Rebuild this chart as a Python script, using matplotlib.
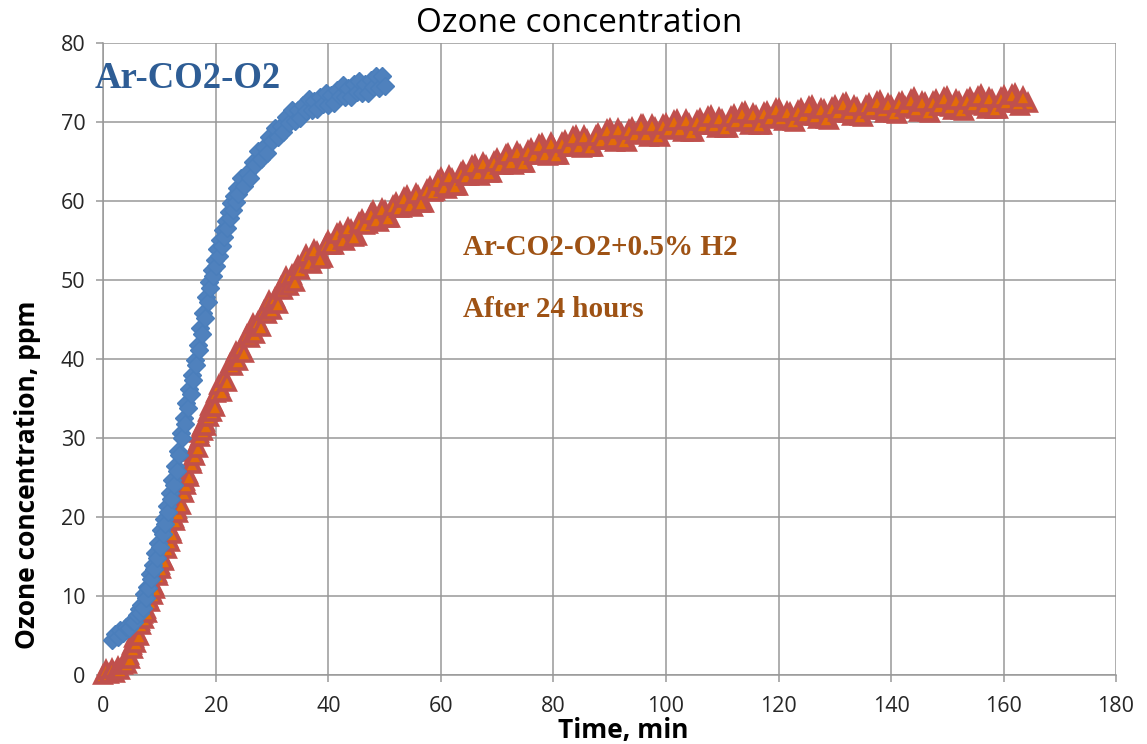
import matplotlib
matplotlib.use('Agg')
import matplotlib.pyplot as plt

# ---- Ar-CO2-O2 (blue diamonds) ----
blue_t_a = [1.5, 2.0, 2.5, 3.0, 3.5, 4.0, 4.5, 5.0, 5.5, 6.0]
blue_v_a = [4.4, 5.2, 4.8, 5.7, 5.3, 6.1, 5.9, 6.8, 6.7, 7.6]

blue_t_b = [6.25, 6.5, 6.75, 7.0, 7.25, 7.5, 7.75, 8.0, 8.25, 8.5,
            8.75, 9.0, 9.25, 9.5, 9.75, 10.0, 10.25, 10.5, 10.75, 11.0,
            11.25, 11.5, 11.75, 12.0, 12.25, 12.5, 12.75, 13.0, 13.25, 13.5,
            13.75, 14.0, 14.25, 14.5, 14.75, 15.0, 15.25, 15.5, 15.75, 16.0,
            16.25, 16.5, 16.75, 17.0, 17.25, 17.5, 17.75, 18.0, 18.25, 18.5,
            18.75, 19.0, 19.25, 19.5, 19.75, 20.0, 20.25, 20.5, 20.75, 21.0,
            21.25, 21.5, 21.75, 22.0, 22.25, 22.5, 22.75, 23.0, 23.25, 23.5,
            23.75, 24.0]
blue_v_b = [8.4, 7.8, 8.9, 8.5, 10.3, 9.7, 11.2, 11.0, 12.8, 12.2,
            13.9, 13.4, 15.4, 14.8, 16.7, 16.2, 18.4, 17.8, 19.8, 19.1,
            21.4, 20.7, 23.0, 22.3, 24.7, 24.0, 26.5, 25.8, 28.4, 27.9,
            30.6, 30.0, 32.5, 31.8, 34.4, 33.8, 36.2, 35.6, 38.0, 37.4,
            39.9, 39.2, 41.8, 41.2, 43.9, 43.2, 45.8, 45.2, 47.8, 47.2,
            49.8, 49.0, 51.3, 50.5, 52.6, 51.8, 53.9, 53.1, 55.1, 54.3,
            56.4, 55.5, 57.5, 56.6, 58.6, 57.8, 59.7, 58.9, 60.7, 59.9,
            61.6, 60.9]

blue_t_c = [24.5, 25.0, 25.5, 26.0, 26.5, 27.0, 27.5, 28.0, 28.5, 29.0,
            29.5, 30.0, 30.5, 31.0, 31.5, 32.0, 32.5, 33.0, 33.5, 34.0,
            34.5, 35.0, 35.5, 36.0, 36.5, 37.0, 37.5, 38.0, 38.5, 39.0,
            39.5, 40.0, 40.5, 41.0, 41.5, 42.0, 42.5, 43.0, 43.5, 44.0,
            44.5, 45.0, 45.5, 46.0, 46.5, 47.0, 47.5, 48.0, 48.5, 49.0,
            49.5, 50.0]
blue_v_c = [62.9, 61.9, 63.5, 62.9, 65.0, 64.6, 66.4, 65.3, 66.8, 66.1,
            68.1, 67.6, 69.3, 68.1, 69.5, 68.7, 70.6, 69.9, 71.5, 70.2,
            71.5, 70.5, 72.2, 71.4, 72.9, 71.5, 72.7, 71.6, 73.2, 72.3,
            73.7, 72.2, 73.4, 72.4, 74.1, 73.3, 74.7, 73.2, 74.3, 73.2,
            74.8, 73.8, 75.2, 73.7, 74.8, 73.7, 75.3, 74.4, 75.8, 74.3,
            75.8, 74.6]

# ---- Ar-CO2-O2+0.5% H2, after 24 hours (orange triangles) ----
red_t_a = [0.0, 0.5, 1.0, 1.5, 2.0, 2.5, 3.0, 3.5]
red_v_a = [0.0, 0.6, 0.1, 0.8, 0.3, 1.0, 0.6, 1.3]

red_t_b = [4.0, 4.25, 4.5, 4.75, 5.0, 5.25, 5.5, 5.75, 6.0, 6.25,
           6.5, 6.75, 7.0, 7.25, 7.5, 7.75, 8.0, 8.25, 8.5, 8.75,
           9.0, 9.25, 9.5, 9.75, 10.0, 10.25, 10.5, 10.75, 11.0, 11.25,
           11.5, 11.75, 12.0, 12.25, 12.5, 12.75, 13.0, 13.25, 13.5, 13.75,
           14.0, 14.25, 14.5, 14.75, 15.0, 15.25, 15.5, 15.75, 16.0, 16.25,
           16.5, 16.75, 17.0, 17.25, 17.5, 17.75, 18.0, 18.25, 18.5, 18.75,
           19.0, 19.25, 19.5, 19.75, 20.0]
red_v_b = [2.1, 1.4, 2.5, 2.0, 3.8, 3.3, 4.7, 4.1, 5.3, 4.9,
           6.8, 6.3, 7.7, 7.1, 8.3, 7.9, 9.8, 9.3, 10.7, 10.1,
           11.3, 10.9, 12.9, 12.5, 13.9, 13.4, 14.7, 14.4, 16.3, 15.9,
           17.4, 16.9, 18.2, 17.9, 19.9, 19.5, 21.0, 20.5, 21.8, 21.5,
           23.5, 23.1, 24.6, 24.1, 25.4, 25.1, 27.1, 26.7, 28.2, 27.7,
           29.0, 28.7, 30.6, 30.1, 31.5, 30.9, 32.0, 31.5, 33.3, 32.7,
           34.0, 33.3, 34.4, 33.9, 35.7]

red_t_c = [20.5, 21.0, 21.5, 22.0, 22.5, 23.0, 23.5, 24.0, 24.5, 25.0,
           25.5, 26.0, 26.5, 27.0, 27.5, 28.0, 28.5, 29.0, 29.5, 30.0,
           30.5, 31.0, 31.5, 32.0, 32.5, 33.0, 33.5, 34.0, 34.5, 35.0]
red_v_c = [36.7, 35.8, 37.6, 37.1, 39.4, 39.1, 40.9, 39.8, 41.4, 40.8,
           43.0, 42.7, 44.4, 43.2, 44.7, 44.0, 46.1, 45.7, 47.4, 46.2,
           47.7, 47.0, 49.1, 48.7, 50.4, 49.2, 50.6, 49.8, 51.8, 51.3]

red_t_d = [36, 37, 38, 39, 40, 41, 42, 43, 44, 45,
           46, 47, 48, 49, 50, 51, 52, 53, 54, 55,
           56, 57, 58, 59, 60, 61, 62, 63, 64, 65,
           66, 67, 68, 69, 70, 71, 72, 73, 74, 75,
           76, 77, 78, 79, 80, 81, 82, 83, 84, 85,
           86, 87, 88, 89, 90, 91, 92, 93, 94, 95,
           96, 97, 98, 99, 100, 101, 102, 103, 104, 105,
           106, 107, 108, 109, 110, 111, 112, 113, 114, 115,
           116, 117, 118, 119, 120, 121, 122, 123, 124, 125,
           126, 127, 128, 129, 130, 131, 132, 133, 134, 135,
           136, 137, 138, 139, 140, 141, 142, 143, 144, 145,
           146, 147, 148, 149, 150, 151, 152, 153, 154, 155,
           156, 157, 158, 159, 160, 161, 162, 163, 164.3]
red_v_d = [53.2, 52.0, 53.5, 52.8, 54.9, 54.5, 56.1, 54.9, 56.3, 55.6,
           57.6, 57.1, 58.7, 57.3, 58.7, 57.8, 59.7, 59.1, 60.6, 59.2,
           60.6, 59.8, 61.8, 61.3, 62.9, 61.5, 62.8, 61.9, 63.8, 63.2,
           64.6, 63.2, 64.4, 63.5, 65.3, 64.6, 66.0, 64.6, 65.8, 64.8,
           66.6, 65.9, 67.2, 65.7, 66.9, 65.9, 67.6, 66.9, 68.2, 66.7,
           67.8, 66.8, 68.5, 67.8, 69.1, 67.5, 68.6, 67.5, 69.2, 68.4,
           69.7, 68.1, 69.2, 68.1, 69.8, 69.0, 70.3, 68.7, 69.8, 68.7,
           70.4, 69.6, 70.8, 69.2, 70.3, 69.2, 70.9, 70.0, 71.3, 69.7,
           70.8, 69.6, 71.3, 70.4, 71.7, 70.1, 71.1, 70.0, 71.6, 70.8,
           72.1, 70.4, 71.5, 70.3, 72.0, 71.2, 72.4, 70.8, 71.8, 70.7,
           72.3, 71.5, 72.7, 71.1, 72.1, 71.0, 72.6, 71.8, 73.0, 71.3,
           72.4, 71.2, 72.8, 72.0, 73.2, 71.5, 72.6, 71.4, 73.0, 72.2,
           73.4, 71.7, 72.8, 71.6, 73.3, 72.4, 73.6, 72.0, 72.4]

# readings taken between the whole minutes
red_t_e = [36.5, 37.5, 38.5, 39.5, 40.5, 41.5, 42.5, 43.5, 44.5, 45.5,
           46.5, 47.5, 48.5, 49.5, 50.5, 51.5, 52.5, 53.5, 54.5, 55.5,
           56.5, 57.5, 58.5, 59.5, 60.5, 61.5, 62.5, 63.5, 64.5, 65.5,
           66.5, 67.5, 68.5, 69.5, 70.5, 71.5, 72.5, 73.5, 74.5, 75.5,
           76.5, 77.5, 78.5, 79.5, 80.5, 81.5, 82.5, 83.5, 84.5, 85.5,
           86.5, 87.5, 88.5, 89.5, 90.5, 91.5, 92.5, 93.5, 94.5, 95.5,
           96.5, 97.5, 98.5, 99.5, 100.5, 101.5, 102.5, 103.5, 104.5, 105.5,
           106.5, 107.5, 108.5, 109.5, 110.5, 111.5, 112.5, 113.5, 114.5,
           115.5, 116.5, 117.5, 118.5, 119.5, 120.5, 121.5, 122.5, 123.5,
           124.5, 125.5, 126.5, 127.5, 128.5, 129.5, 130.5, 131.5, 132.5,
           133.5, 134.5, 135.5, 136.5, 137.5, 138.5, 139.5, 140.5, 141.5,
           142.5, 143.5, 144.5, 145.5, 146.5, 147.5, 148.5, 149.5, 150.5,
           151.5, 152.5, 153.5, 154.5, 155.5, 156.5, 157.5, 158.5, 159.5,
           160.5, 161.5, 162.5, 163.5]
red_v_e = [52.2, 53.8, 52.7, 54.5, 54.4, 55.8, 55.1, 56.6, 55.5, 57.2,
           57.0, 58.4, 57.6, 59.0, 57.8, 59.4, 59.1, 60.4, 59.5, 60.9,
           59.7, 61.4, 61.2, 62.6, 61.8, 63.2, 61.9, 63.5, 63.2, 64.4,
           63.5, 64.8, 63.5, 65.0, 64.6, 65.8, 64.9, 66.2, 64.8, 66.3,
           65.9, 67.1, 66.0, 67.3, 65.9, 67.4, 66.9, 68.1, 67.0, 68.3,
           66.8, 68.3, 67.8, 69.0, 67.9, 69.1, 67.6, 69.0, 68.5, 69.6,
           68.5, 69.7, 68.2, 69.6, 69.1, 70.2, 69.1, 70.3, 68.8, 70.2,
           69.7, 70.7, 69.6, 70.5, 69.3, 70.7, 70.1, 71.2, 70.1,
           71.0, 69.7, 71.1, 70.5, 71.6, 70.5, 71.3, 70.1, 71.4,
           70.9, 71.9, 70.8, 71.7, 70.4, 71.8, 71.3, 72.3, 71.2,
           72.0, 70.8, 72.1, 71.6, 72.6, 71.5, 72.3, 71.1, 72.4,
           71.9, 72.8, 71.7, 72.6, 71.3, 72.6, 72.1, 73.0, 71.9,
           72.8, 71.5, 72.8, 72.3, 73.2, 72.1, 73.0, 71.7, 73.1,
           72.6, 73.4, 72.4, 73.2]

blue_t = blue_t_a + blue_t_b + blue_t_c
blue_v = blue_v_a + blue_v_b + blue_v_c
red_t = red_t_a + red_t_b + red_t_c + red_t_d + red_t_e
red_v = red_v_a + red_v_b + red_v_c + red_v_d + red_v_e

x_ticks = [0, 20, 40, 60, 80, 100, 120, 140, 160, 180]
y_ticks = [0, 10, 20, 30, 40, 50, 60, 70, 80]

plt.rcParams['font.family'] = ['Open Sans', 'DejaVu Sans']

fig = plt.figure(figsize=(11.47, 7.44), dpi=100)
ax = fig.add_axes([0.0902, 0.0927, 0.8828, 0.8493])

grid_c = '#989898'
ax.plot(red_t, red_v, linestyle='none', marker='^', markersize=11.5,
        markerfacecolor='#E36C09', markeredgecolor='#C0504D',
        markeredgewidth=2.6, clip_on=False, zorder=3)
ax.plot(blue_t, blue_v, linestyle='none', marker='D', markersize=9.5,
        markerfacecolor='#4F81BD', markeredgecolor='#4A7EBB',
        markeredgewidth=1.0, clip_on=False, zorder=4)

ax.set_xlim(0, 180)
ax.set_ylim(0, 80)
ax.set_xticks(x_ticks)
ax.set_yticks(y_ticks)
ax.grid(True, color=grid_c, linewidth=1.1)
ax.set_axisbelow(True)
for side in ['top', 'right']:
    ax.spines[side].set_visible(False)
for side in ['left', 'bottom']:
    ax.spines[side].set_color(grid_c)
    ax.spines[side].set_linewidth(1.1)
ax.tick_params(axis='both', direction='out', length=5, width=1.1,
               color=grid_c, labelsize=15.5, labelcolor='#262626')
ax.tick_params(axis='y', pad=8)
ax.tick_params(axis='x', pad=10)

fig.text(0.505, 1 - 24 / 744, 'Ozone concentration', ha='center',
         va='center', fontsize=24, color='black')
fig.text(0.5436, 0.0175, 'Time, min', ha='center', va='center',
         fontsize=19, fontweight='bold', color='black')
fig.text(0.0244, 0.3616, 'Ozone concentration, ppm', ha='center',
         va='center', rotation=90, fontsize=19, fontweight='bold',
         color='black')

fig.text(95 / 1147, 1 - 88 / 744, 'Ar-CO2-O2', ha='left', va='baseline',
         fontsize=26.5, fontweight='bold', color='#2E5D95',
         family='Liberation Serif')
fig.text(463 / 1147, 1 - 255 / 744, 'Ar-CO2-O2+0.5% H2', ha='left',
         va='baseline', fontsize=21, fontweight='bold', color='#9E5214',
         family='Liberation Serif')
fig.text(463 / 1147, 1 - 317 / 744, 'After 24 hours', ha='left',
         va='baseline', fontsize=21, fontweight='bold', color='#9E5214',
         family='Liberation Serif')

fig.savefig('out.png', dpi=100)
